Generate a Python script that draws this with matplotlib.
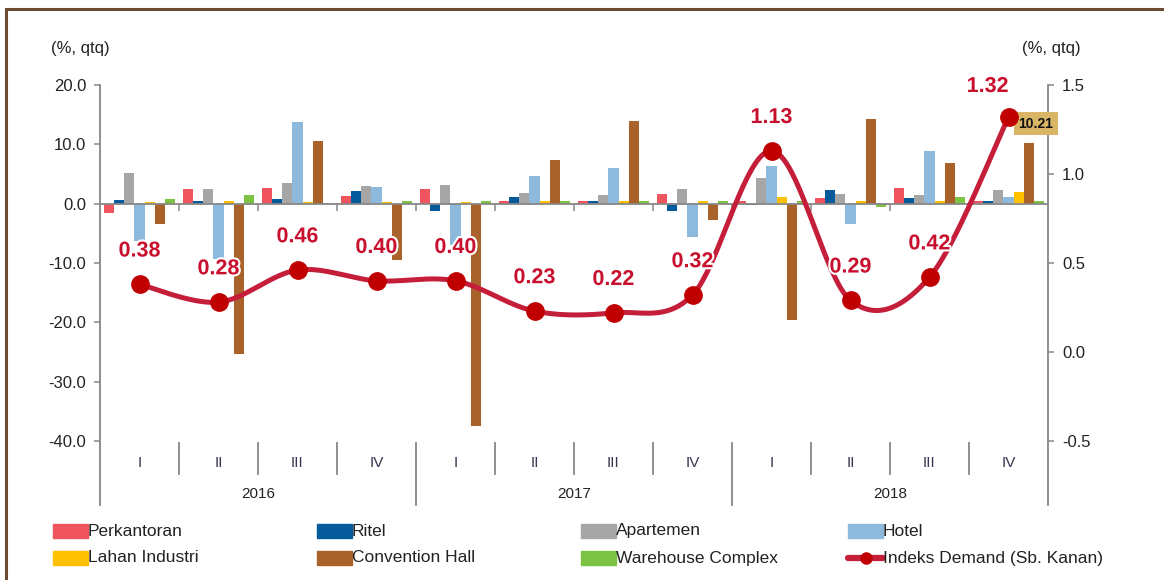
import matplotlib
matplotlib.use("Agg")
import matplotlib.pyplot as plt
import matplotlib.patheffects as pe
from matplotlib.patches import Rectangle
from matplotlib.lines import Line2D
import numpy as np

plt.rcParams['font.family'] = ['Liberation Sans', 'DejaVu Sans']

# --- data ---
quarters = ["I", "II", "III", "IV"] * 3
years = ["2016", "2017", "2018"]

series_names = ["Perkantoran", "Ritel", "Apartemen", "Hotel",
                "Lahan Industri", "Convention Hall", "Warehouse Complex"]
series_colors = ["#F0555F", "#055A9B", "#A6A6A6", "#8DB9DD",
                 "#FFC000", "#A9622A", "#7CC243"]

perkantoran = [-1.5, 2.5, 2.6, 1.3, 2.5, 0.5, 0.4, 1.7, 0.5, 0.9, 2.6, 0.5]
ritel = [0.6, 0.5, 0.8, 2.1, -1.2, 1.2, 0.5, -1.2, -0.3, 2.3, 0.9, 0.5]
apartemen = [5.1, 2.5, 3.4, 3.0, 3.1, 1.8, 1.5, 2.5, 4.3, 1.7, 1.5, 2.3]
hotel = [-6.3, -9.3, 13.7, 2.8, -7.0, 4.6, 6.0, -5.6, 6.3, -3.5, 8.8, 1.2]
lahan = [0.3, 0.4, 0.3, 0.3, 0.3, 0.5, 0.5, 0.4, 1.1, 0.5, 0.5, 2.0]
convention = [-3.5, -25.3, 10.5, -9.5, -37.4, 7.4, 13.9, -2.7, -19.6, 14.3, 6.9, 10.21]
warehouse = [0.8, 1.5, 0.1, 0.5, 0.5, 0.5, 0.5, 0.5, 0.5, -0.6, 1.1, 0.5]
bar_series = [perkantoran, ritel, apartemen, hotel, lahan, convention, warehouse]

indeks_demand = [0.38, 0.28, 0.46, 0.40, 0.40, 0.23, 0.22, 0.32, 1.13, 0.29, 0.42, 1.32]

W, H = 1164, 580
fig = plt.figure(figsize=(W / 100, H / 100), dpi=100)
fig.patch.set_facecolor("white")

# brown frame (only top/left edges fall inside the picture)
fig.add_artist(Rectangle((6 / W, -0.1), 1.2, (H - 9) / H + 0.1, transform=fig.transFigure,
                         fill=False, edgecolor="#6B4C33", linewidth=2.2))

ax = fig.add_axes([100 / W, 139 / H, 948 / W, 356 / H])
grey = "#878787"
txt = "#222222"

x = np.arange(len(quarters))
bw = 0.13
for i, (vals, col) in enumerate(zip(bar_series, series_colors)):
    ax.bar(x + (i - 3) * bw, vals, width=bw, color=col, zorder=2)

ax.set_xlim(-0.5, 11.5)
ax.set_ylim(-40, 20)
ax.set_yticks(np.arange(-40, 21, 10))
ax.set_yticklabels([f"{v:.1f}" for v in np.arange(-40, 21, 10)])
ax.tick_params(axis="y", direction="out", length=4, color=grey, width=1.1,
               labelsize=12, labelcolor=txt, pad=6)

for s in ["top", "right", "left"]:
    ax.spines[s].set_visible(False)
ax.spines["bottom"].set_position(("data", 0))
ax.spines["bottom"].set_color(grey)
ax.spines["bottom"].set_linewidth(1.3)
ax.spines["bottom"].set_zorder(3)
ax.set_xticks(np.arange(0.5, 11.5, 1))
ax.tick_params(axis="x", direction="out", length=5, color=grey, width=1.1, labelbottom=False)

# axis lines and category separators extending below the plot
for xv in [-0.5, 11.5]:
    ax.plot([xv, xv], [1, -0.18], transform=ax.get_xaxis_transform(), color=grey,
            lw=1.3, clip_on=False, zorder=3)
for k in range(1, 12):
    bottom = -0.18 if k % 4 == 0 else -0.093
    ax.plot([k - 0.5, k - 0.5], [-0.006, bottom], transform=ax.get_xaxis_transform(),
            color=grey, lw=1.3, clip_on=False)
for k, q in enumerate(quarters):
    ax.text(k, -0.062, q, transform=ax.get_xaxis_transform(), ha="center", va="center",
            fontsize=11, color="#3a3550")
for j, yr in enumerate(years):
    ax.text(4 * j + 1.5, -0.149, yr, transform=ax.get_xaxis_transform(), ha="center",
            va="center", fontsize=11, color=txt)

# data label of the last convention hall bar
ax.annotate(f"{convention[-1]:.2f}", (x[-1] + 2 * bw, convention[-1]), xytext=(5, 14),
            textcoords="offset points", ha="center", va="center", fontsize=10,
            fontweight="bold", color="#111111", zorder=6,
            bbox=dict(boxstyle="square,pad=0.3", fc="#D9B566", ec="none"))

# right axis: Indeks Demand
ax2 = ax.twinx()
ax2.set_ylim(-0.5, 1.5)
ax2.set_yticks([-0.5, 0.0, 0.5, 1.0, 1.5])
ax2.set_yticklabels(["-0.5", "0.0", "0.5", "1.0", "1.5"])
for s in ax2.spines.values():
    s.set_visible(False)
ax2.tick_params(axis="y", direction="out", length=4, color=grey, width=1.1,
                labelsize=12, labelcolor=txt, pad=6)

# smoothed line (Catmull-Rom style, like spreadsheet smoothing)
pts = np.column_stack([x, indeks_demand]).astype(float)
ext = np.vstack([pts[0], pts, pts[-1]])
curve = []
t = np.linspace(0, 1, 40)[:, None]
for i in range(len(pts) - 1):
    p0, p1, p2, p3 = ext[i], ext[i + 1], ext[i + 2], ext[i + 3]
    c1 = p1 + (p2 - p0) / 6
    c2 = p2 - (p3 - p1) / 6
    seg = ((1 - t) ** 3) * p1 + 3 * ((1 - t) ** 2) * t * c1 + 3 * (1 - t) * t ** 2 * c2 + t ** 3 * p2
    curve.append(seg)
curve = np.vstack(curve)
line_col = "#C41E3A"
ax2.plot(curve[:, 0], curve[:, 1], color=line_col, lw=3.6, solid_capstyle="round", zorder=4)
ax2.plot(x, indeks_demand, "o", color="#C00000", markersize=12.5, zorder=5)

glow = [pe.withStroke(linewidth=3, foreground="white")]
for k, v in enumerate(indeks_demand):
    off = (-15, 22) if k == len(indeks_demand) - 1 else (0, 24)
    ax2.annotate(f"{v:.2f}", (x[k], v), xytext=off, textcoords="offset points",
                 ha="center", va="center", fontsize=15.5, fontweight="bold",
                 color="#C8102E", path_effects=glow, zorder=6)

# unit labels
fig.text(80 / W, 1 - 48 / H, "(%, qtq)", ha="center", va="center", fontsize=12, color=txt)
fig.text(1051 / W, 1 - 48 / H, "(%, qtq)", ha="center", va="center", fontsize=12, color=txt)

# legend laid out in four even columns
legend_names = series_names + ["Indeks Demand (Sb. Kanan)"]
col_x = [53, 317, 581, 848]
row_y = [531, 558]
for n, name in enumerate(legend_names):
    r, c = divmod(n, 4)
    x0, yc = col_x[c], row_y[r]
    if n < 7:
        fig.add_artist(Rectangle((x0 / W, 1 - (yc + 7) / H), 35 / W, 14 / H,
                                 transform=fig.transFigure, color=series_colors[n]))
    else:
        fig.add_artist(Line2D([x0 / W, (x0 + 35) / W], [1 - yc / H] * 2, transform=fig.transFigure,
                              color=line_col, lw=4.5, marker="o", markevery=[],
                              solid_capstyle="round"))
        fig.add_artist(Line2D([(x0 + 17.5) / W], [1 - yc / H], transform=fig.transFigure,
                              color="#C00000", marker="o", markersize=8, lw=0))
    fig.text((x0 + 35) / W, 1 - yc / H, name, ha="left", va="center", fontsize=12.5, color=txt)

fig.savefig("out.png", dpi=100)
